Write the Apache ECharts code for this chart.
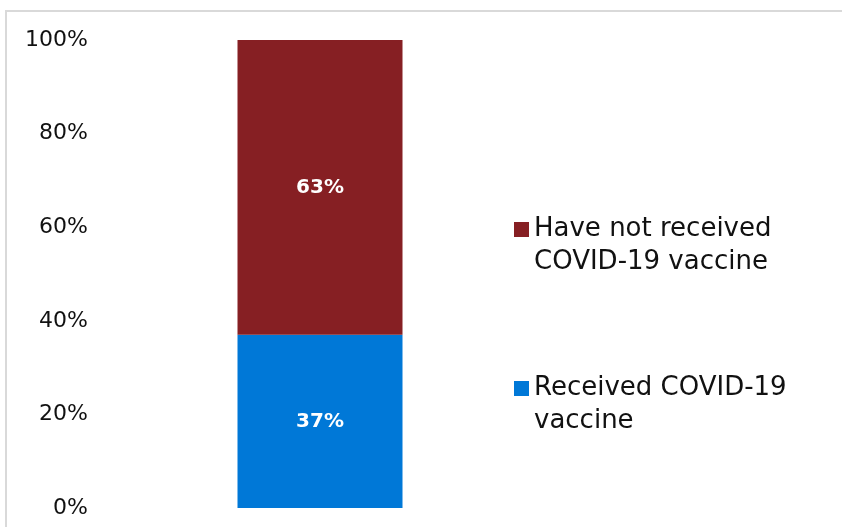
<!DOCTYPE html>
<html>
<head>
<meta charset="utf-8">
<script src="https://cdn.jsdelivr.net/npm/echarts@6/dist/echarts.min.js"></script>
<style>
  html, body { margin: 0; padding: 0; background: #fff; }
  #chart { width: 842px; height: 527px; }
</style>
</head>
<body>
<div id="chart"></div>
<script>
// Share of respondents by COVID-19 vaccination status (single stacked column)
const categories = [''];
const receivedValues = [37];
const notReceivedValues = [63];
const receivedName = 'Received COVID-19\nvaccine';
const notReceivedName = 'Have not received\nCOVID-19 vaccine';
const yMin = 0, yMax = 100, yStep = 20;

const FONT = '"DejaVu Sans", sans-serif';
const RED = '#861f23';
const BLUE = '#0078d7';

const chart = echarts.init(document.getElementById('chart'), null, { renderer: 'canvas' });

const barLabel = {
  show: true,
  position: 'inside',
  formatter: p => p.value + '%',
  color: '#ffffff',
  fontFamily: FONT,
  fontWeight: 'bold',
  fontSize: 20
};

chart.setOption({
  backgroundColor: '#ffffff',
  animation: false,
  graphic: [{
    type: 'rect',
    shape: { x: 6, y: 11, width: 840, height: 540 },
    style: { fill: 'none', stroke: '#d9d9d9', lineWidth: 2 },
    silent: true,
    z: -10
  }],
  grid: { left: 100, right: 302, top: 40, bottom: 19, containLabel: false },
  xAxis: {
    type: 'category',
    data: categories,
    axisLine: { show: false },
    axisTick: { show: false },
    axisLabel: { show: false }
  },
  yAxis: {
    type: 'value',
    min: yMin,
    max: yMax,
    interval: yStep,
    axisLine: { show: false },
    axisTick: { show: false },
    splitLine: { show: false },
    axisLabel: {
      formatter: '{value}%',
      fontFamily: FONT,
      fontSize: 22,
      color: '#111111',
      margin: 12
    }
  },
  legend: {
    orient: 'vertical',
    left: 514,
    top: 180,
    padding: 0,
    itemWidth: 15,
    itemHeight: 15,
    itemGap: 60,
    icon: 'rect',
    data: [notReceivedName, receivedName],
    // leading blank line keeps the marker level with the first text line
    formatter: name => '\n' + name,
    textStyle: {
      fontFamily: FONT,
      fontSize: 26,
      color: '#111111',
      lineHeight: 33
    }
  },
  series: [
    {
      name: receivedName,
      type: 'bar',
      stack: 'total',
      barWidth: 165,
      data: receivedValues,
      itemStyle: { color: BLUE },
      label: barLabel
    },
    {
      name: notReceivedName,
      type: 'bar',
      stack: 'total',
      barWidth: 165,
      data: notReceivedValues,
      itemStyle: { color: RED },
      label: barLabel
    }
  ]
});
</script>
</body>
</html>
